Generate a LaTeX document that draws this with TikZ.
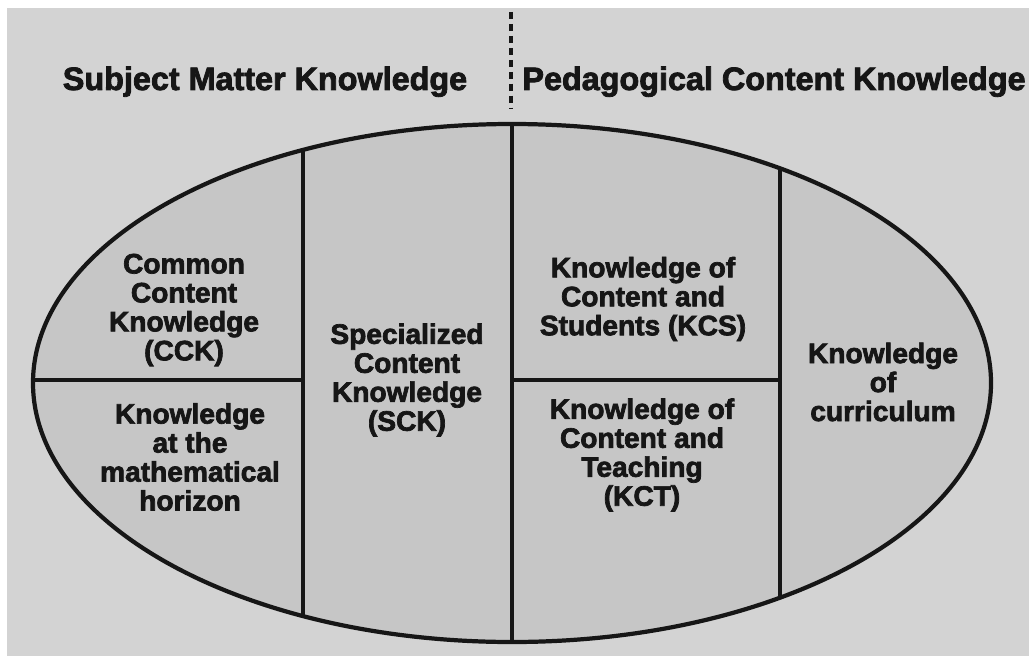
\documentclass[tikz,border=0pt]{standalone}
\usepackage{fontspec}
\setmainfont{Liberation Sans}
\newfontfamily\heavyfont{Liberation Sans Bold}[FakeBold=2.5]
\definecolor{paper}{HTML}{D3D3D3}
\definecolor{field}{HTML}{C6C6C6}
\definecolor{ink}{HTML}{161616}
\tikzset{
  part/.style={align=center, font=\fontsize{20}{20.6}\selectfont\heavyfont, text=ink, inner sep=0pt},
  heading/.style={anchor=base, font=\fontsize{23}{25}\selectfont\heavyfont, text=ink, inner sep=0pt},
  wall/.style={draw=ink, line width=3pt},
}
\begin{document}
\begin{tikzpicture}[x=0.025cm, y=-0.025cm]
    \useasboundingbox (0,0) rectangle (1029,656);
    \fill[paper] (7,8) rectangle (1029,656);

    % Oval (Domains)
    \fill[field] (512,383) ellipse [x radius=479, y radius=259];
    \begin{scope}
        \clip (512,383) ellipse [x radius=479, y radius=259];
        \draw[wall] (303,0) -- (303,656);
        \draw[wall] (512,0) -- (512,656);
        \draw[wall] (780,0) -- (780,656);
        \draw[wall] (0,380) -- (303,380);
        \draw[wall] (512,380) -- (780,380);
    \end{scope}
    \draw[wall] (512,383) ellipse [x radius=479, y radius=259];

    % Divider (Headings)
    \draw[ink, line width=2.6pt, dash pattern=on 5pt off 3.5pt] (511,12) -- (511,108);
    \node[heading] (smk) at (265,90) {Subject Matter Knowledge};
    \node[heading] (pck) at (774,90) {Pedagogical Content Knowledge};

    % Nodes (Domains)
    \node[part] (cck) at (184,310) {Common\\Content\\Knowledge\\(CCK)};
    \node[part] (horizon) at (190,457) {Knowledge\\at the\\mathematical\\horizon};
    \node[part] (sck) at (407,380) {Specialized\\Content\\Knowledge\\(SCK)};
    \node[part] (kcs) at (643,299) {Knowledge of\\Content and\\Students (KCS)};
    \node[part] (kct) at (642,455) {Knowledge of\\Content and\\Teaching\\(KCT)};
    \node[part] (curr) at (883,382) {Knowledge\\of\\curriculum};
\end{tikzpicture}
\end{document}
